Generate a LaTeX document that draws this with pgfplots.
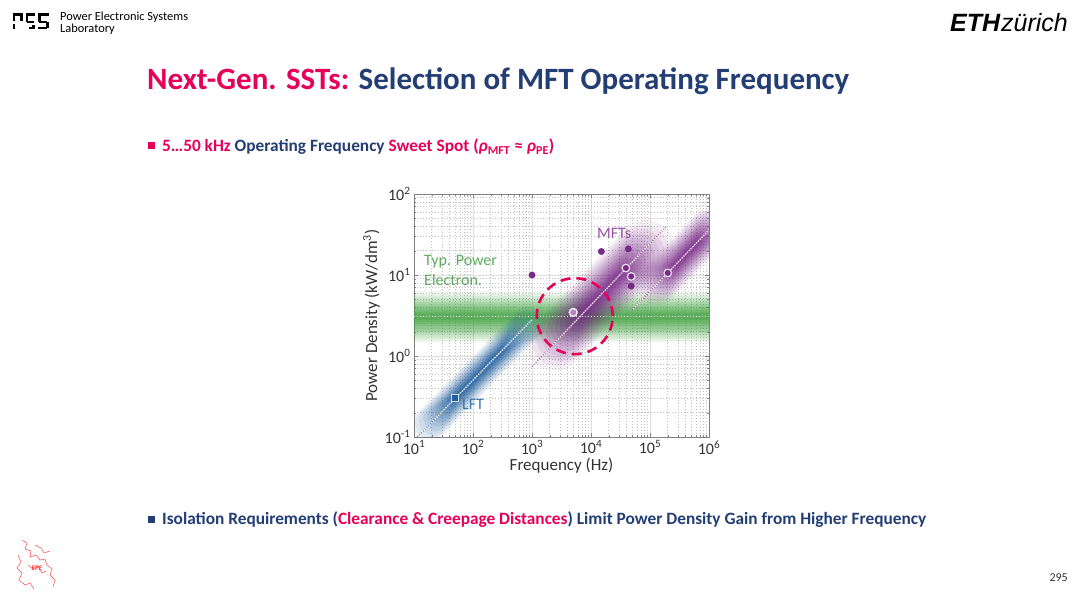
\documentclass[border=0pt]{standalone}
\usepackage{pgfplots}
\pgfplotsset{compat=1.18}
\usepackage{fontspec}
\setmainfont{Carlito}
\newfontfamily\ethfont{Liberation Sans}
\definecolor{pesPink}{RGB}{230,0,90}
\definecolor{pesNavy}{RGB}{35,62,117}
\definecolor{lftBlue}{RGB}{35,95,160}
\definecolor{mftPurple}{RGB}{120,40,135}
\definecolor{peGreen}{RGB}{60,160,60}
\definecolor{txtGreen}{RGB}{95,170,95}
\definecolor{txtPurple}{RGB}{150,80,165}
\definecolor{txtBlue}{RGB}{60,120,180}
% soft-band layers: width, shorten start, shorten end, opacity
\newcommand\gband[2]{\addplot[peGreen, line width=#1pt, opacity=#2, line cap=butt] coordinates {(10,3.0) (1e6,3.0)};}
\newcommand\lftb[4]{\addplot[lftBlue, line width=#1pt, opacity=#4, line cap=round, shorten <=#2pt, shorten >=#3pt] coordinates {(11.4,0.1) (1000,2.8)};}
\newcommand\mfta[4]{\addplot[mftPurple, line width=#1pt, opacity=#4, line cap=round, shorten <=#2pt, shorten >=#3pt] coordinates {(1000,0.74) (190000,39.9)};}
\newcommand\mftb[4]{\addplot[mftPurple, line width=#1pt, opacity=#4, line cap=round, shorten <=#2pt, shorten >=#3pt] coordinates {(50000,3.7) (1000000,36)};}
\begin{document}
\begin{tikzpicture}[x=1pt,y=1pt]
\fill[white] (0,0) rectangle (1080,595);
% ---------- header ----------
\begin{scope}[line width=2.6pt, black, line cap=butt]
 \draw (12.5,580.5) -- (22.5,580.5);
 \draw (13.8,580.5) -- (13.8,574); \draw (13.8,571) -- (13.8,565.5);
 \draw (21.2,580.5) -- (21.2,574);
 \draw (25.5,580.5) -- (35,580.5);
 \draw (26.8,580.5) -- (26.8,573); \draw (26.8,573) -- (34,573);
 \draw (29,566.8) -- (35,566.8); \draw (33.7,566.8) -- (33.7,570);
 \draw (38,580.5) -- (48.5,580.5);
 \draw (39.3,580.5) -- (39.3,573); \draw (39.3,573) -- (47.2,573);
 \draw (47.2,573) -- (47.2,566.8); \draw (38,566.8) -- (47.2,566.8);
\end{scope}
\node[anchor=base west, inner sep=0, font=\fontsize{12.4}{13}\selectfont] at (60,574) {Power Electronic Systems};
\node[anchor=base west, inner sep=0, font=\fontsize{12.4}{13}\selectfont] at (60,562) {Laboratory};
\node[anchor=base east, inner sep=0, font=\fontsize{25}{25}\selectfont] at (1068,563.5) {{\ethfont\bfseries\itshape ETH}\kern1pt{\ethfont\itshape z\"urich}};
% ---------- title ----------
\node[anchor=base west, inner sep=0, font=\fontsize{31}{31}\selectfont\bfseries] at (147,505.5)
 {\textcolor{pesPink}{Next-Gen. SSTs:} \textcolor{pesNavy}{Selection of MFT Operating Frequency}};
% ---------- bullet 1 ----------
\fill[pesPink] (147.5,445.5) rectangle (154.5,452.5);
\node[anchor=west, inner sep=0, font=\fontsize{17.3}{17}\selectfont\bfseries] at (162,448.5)
 {\textcolor{pesPink}{5…50 kHz} \textcolor{pesNavy}{Operating Frequency} \textcolor{pesPink}{Sweet Spot (\textit{ρ}\textsubscript{MFT} ≈ \textit{ρ}\textsubscript{PE})}};
% ---------- bullet 2 ----------
\fill[pesNavy] (147.5,71.5) rectangle (154.5,78.5);
\node[anchor=west, inner sep=0, font=\fontsize{17.3}{17}\selectfont\bfseries] at (162,75)
 {\textcolor{pesNavy}{Isolation Requirements (}\textcolor{pesPink}{Clearance \& Creepage Distances}\textcolor{pesNavy}{) Limit Power Density Gain from Higher Frequency}};
% ---------- page number ----------
\node[anchor=east, inner sep=0, font=\fontsize{12}{12}\selectfont, text=black!80] at (1068,17) {295};
% ---------- EPE logo (sketch) ----------
\begin{scope}[red!70, line width=0.5pt]
 \draw (22,55) -- (27,52) -- (25,46) -- (31,44) -- (30,38) -- (36,40) -- (40,35) -- (45,36) -- (47,30) -- (52,26) -- (50,20) -- (55,15) -- (53,8);
 \draw (18,40) -- (21,33) -- (17,27) -- (22,22) -- (19,15) -- (25,10) -- (30,12) -- (34,6);
 \draw (28,30) -- (33,26) -- (38,29) -- (42,22) -- (46,24);
 \draw (35,50) -- (41,47) -- (44,42) -- (50,44);
\end{scope}
\node[text=red!80, font=\fontsize{7}{7}\selectfont\bfseries\itshape, inner sep=0] at (37,27) {EPE};
% ---------- chart ----------
\begin{axis}[
  at={(414pt,158pt)}, anchor=south west,
  width=295pt, height=243pt, scale only axis,
  xmode=log, ymode=log,
  xmin=10, xmax=1e6, ymin=0.1, ymax=100,
  xtick={10,100,1000,10000,100000,1000000},
  xticklabels={10\textsuperscript{1},10\textsuperscript{2},10\textsuperscript{3},10\textsuperscript{4},10\textsuperscript{5},10\textsuperscript{6}},
  ytick={0.1,1,10,100},
  yticklabels={10\textsuperscript{-1},10\textsuperscript{0},10\textsuperscript{1},10\textsuperscript{2}},
  minor xtick={20,30,40,50,60,70,80,90,200,300,400,500,600,700,800,900,2000,3000,4000,5000,6000,7000,8000,9000,20000,30000,40000,50000,60000,70000,80000,90000,200000,300000,400000,500000,600000,700000,800000,900000},
  minor ytick={0.2,0.3,0.4,0.5,0.6,0.7,0.8,0.9,2,3,4,5,6,7,8,9,20,30,40,50,60,70,80,90},
  grid=both,
  major grid style={black!13, line width=0.7pt},
  minor grid style={black!25, line width=0.6pt, dash pattern=on 0.6pt off 2.4pt},
  axis line style={black!50, line width=0.8pt},
  tick style={black!50},
  tick align=inside, major tick length=4pt, minor tick length=2pt,
  ticklabel style={font=\fontsize{16}{16}\selectfont, text=black!80},
  xlabel={Frequency (Hz)},
  ylabel={Power Density (kW/dm\textsuperscript{3})},
  label style={font=\fontsize{17}{17}\selectfont, text=black!80},
  xlabel style={yshift=3pt},
  ylabel style={yshift=-2pt},
  clip=true,
]
% green band (typical power electronics)
\gband{52}{0.06}\gband{47}{0.07}\gband{43}{0.08}\gband{39}{0.09}\gband{35}{0.1}\gband{31}{0.12}
\gband{27}{0.13}\gband{23}{0.14}\gband{18}{0.16}\gband{14}{0.18}\gband{10}{0.2}\gband{6}{0.22}
% LFT blob
\lftb{34}{15}{6}{0.065}\lftb{31}{18.7}{9.5}{0.08}\lftb{28}{22.5}{12.9}{0.09}\lftb{25}{26.2}{16.4}{0.1}
\lftb{22}{29.9}{19.8}{0.12}\lftb{19.3}{33.6}{23.3}{0.13}\lftb{16.7}{37.4}{26.7}{0.15}\lftb{14.2}{41.1}{30.2}{0.18}
\lftb{11.6}{44.8}{33.6}{0.2}\lftb{9.1}{48.5}{37.1}{0.23}\lftb{6.5}{52.3}{40.5}{0.26}\lftb{4}{56}{44}{0.28}
% MFT blob 1
\mfta{56}{33}{30}{0.06}\mfta{51.5}{36.5}{33.4}{0.07}\mfta{46.9}{40.1}{36.7}{0.085}\mfta{42.4}{43.6}{40.1}{0.095}
\mfta{37.8}{47.2}{43.5}{0.11}\mfta{33.3}{50.7}{46.8}{0.12}\mfta{28.7}{54.3}{50.2}{0.14}\mfta{24.2}{57.8}{53.5}{0.17}
\mfta{19.6}{61.4}{56.9}{0.19}\mfta{15.1}{64.9}{60.3}{0.22}\mfta{10.5}{68.5}{63.6}{0.24}\mfta{6}{72}{67}{0.26}
% MFT blob 2
\mftb{42}{36}{-2}{0.06}\mftb{38.6}{38.3}{-0.3}{0.07}\mftb{35.3}{40.5}{1.5}{0.085}\mftb{31.9}{42.8}{3.2}{0.095}
\mftb{28.5}{45.1}{4.9}{0.11}\mftb{25.2}{47.4}{6.6}{0.12}\mftb{21.8}{49.6}{8.4}{0.14}\mftb{18.5}{51.9}{10.1}{0.17}
\mftb{15.1}{54.2}{11.8}{0.19}\mftb{11.7}{56.5}{13.5}{0.22}\mftb{8.4}{58.7}{15.3}{0.24}\mftb{5}{61}{17}{0.26}
% dotted trend lines
\addplot[white, line width=1.2pt, dash pattern=on 1.3pt off 1.7pt] coordinates {(10,3.1) (1e6,3.1)};
\addplot[lftBlue!75, line width=1.2pt, dash pattern=on 1.3pt off 1.3pt] coordinates {(11.4,0.1) (1000,2.8)};
\addplot[white, line width=1.2pt, dash pattern=on 1.3pt off 1.3pt, dash phase=1.3pt] coordinates {(11.4,0.1) (1000,2.8)};
\addplot[mftPurple!70, line width=1.2pt, dash pattern=on 1.3pt off 1.3pt] coordinates {(1000,0.74) (190000,39.9)};
\addplot[white!70!pink, line width=1.2pt, dash pattern=on 1.3pt off 1.3pt, dash phase=1.3pt] coordinates {(1000,0.74) (190000,39.9)};
\addplot[mftPurple!70, line width=1.2pt, dash pattern=on 1.3pt off 1.3pt] coordinates {(50000,3.7) (1000000,36)};
\addplot[white!70!pink, line width=1.2pt, dash pattern=on 1.3pt off 1.3pt, dash phase=1.3pt] coordinates {(50000,3.7) (1000000,36)};
% sweet-spot circle
\draw[pesPink, line width=2.6pt, dash pattern=on 10pt off 6pt] (axis cs:5300,3.1) circle [radius=38pt];
% data points
\addplot[only marks, mark=*, mark size=3.2pt, mark options={fill=mftPurple, draw=mftPurple}] coordinates {(1000,10) (15000,19.5) (43000,21) (48000,7.3)};
\addplot[only marks, mark=*, mark size=3.8pt, mark options={fill=mftPurple, draw=white!85!mftPurple, line width=1.2pt}] coordinates {(39000,12.2) (48000,9.6) (200000,10.6)};
\addplot[only marks, mark=*, mark size=4pt, mark options={fill=mftPurple!55, draw=white, line width=1.2pt}] coordinates {(5000,3.45)};
\addplot[only marks, mark=square*, mark size=3.5pt, mark options={fill=lftBlue, draw=white!80!lftBlue, line width=1.2pt}] coordinates {(50,0.3)};
% labels
\node[anchor=west, inner sep=0, text=txtGreen, font=\fontsize{16}{16}\selectfont] at (axis cs:14.8,14.5) {Typ. Power};
\node[anchor=west, inner sep=0, text=txtGreen, font=\fontsize{16}{16}\selectfont] at (axis cs:14.8,8.7) {Electron.};
\node[anchor=west, inner sep=0, text=txtPurple, font=\fontsize{16}{16}\selectfont] at (axis cs:12600,33) {MFTs};
\node[anchor=west, inner sep=0, text=txtBlue, font=\fontsize{16}{16}\selectfont] at (axis cs:65,0.255) {LFT};
\end{axis}
\end{tikzpicture}
\end{document}
